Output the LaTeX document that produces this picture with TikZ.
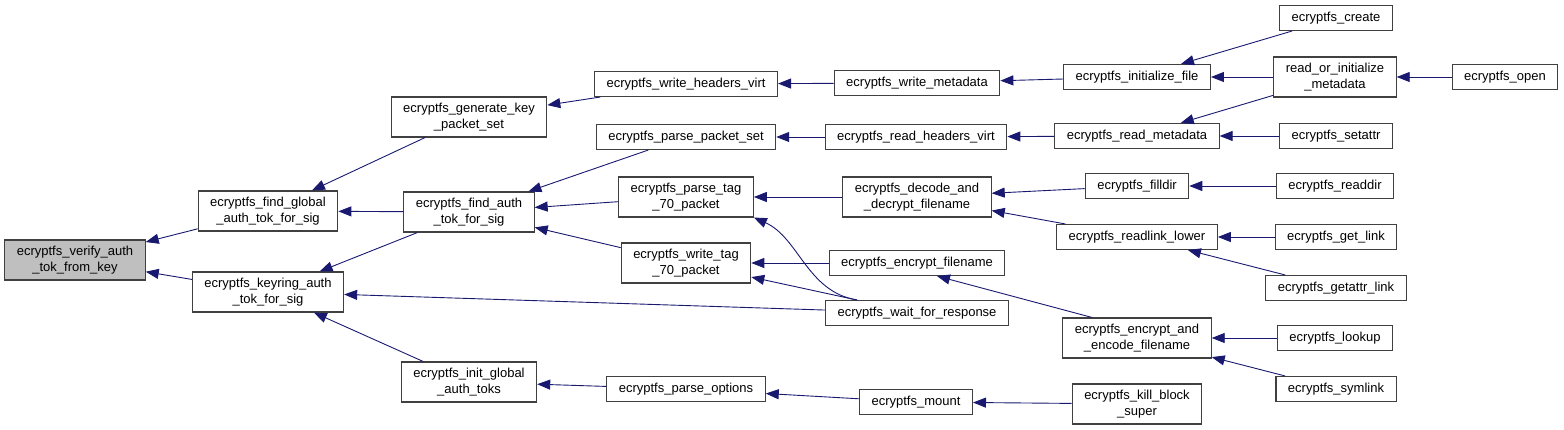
\documentclass[tikz,border=0pt]{standalone}
\usepackage{fontspec}
\setmainfont{Liberation Sans}
\usetikzlibrary{arrows.meta}
\definecolor{edgeblue}{HTML}{191970}
\definecolor{nodegray}{HTML}{BFBFBF}

\begin{document}
\begin{tikzpicture}[x=1pt,y=-1pt,
            fn/.style={rectangle,draw=black!75,line width=1.1pt,fill=white,
             font=\fontsize{13}{16}\selectfont,align=center,
             inner xsep=12pt,inner ysep=2pt,minimum height=25pt},
            fn2/.style={fn,minimum height=40pt},
            call/.style={draw=edgeblue,line width=0.9pt,
             {Triangle[length=13pt,width=10pt]}-}]
            \useasboundingbox (0,0) rectangle (1564,430);
            % column 0 to 2
            \draw (75,260) node[fn2,fill=nodegray] (VA) {ecryptfs\_verify\_auth\\\_tok\_from\_key};
            \draw (268,211) node[fn2] (FG) {ecryptfs\_find\_global\\\_auth\_tok\_for\_sig};
            \draw (268,292) node[fn2] (KR) {ecryptfs\_keyring\_auth\\\_tok\_for\_sig};
            \draw (469,117) node[fn2] (GK) {ecryptfs\_generate\_key\\\_packet\_set};
            \draw (469,212) node[fn2] (FA) {ecryptfs\_find\_auth\\\_tok\_for\_sig};
            \draw (469,382) node[fn2] (IG) {ecryptfs\_init\_global\\\_auth\_toks};
            % column 3 and 4
            \draw (686,84) node[fn] (WH) {ecryptfs\_write\_headers\_virt};
            \draw (686,137) node[fn] (PP) {ecryptfs\_parse\_packet\_set};
            \draw (686,197) node[fn2] (PT) {ecryptfs\_parse\_tag\\\_70\_packet};
            \draw (686,263) node[fn2] (WT) {ecryptfs\_write\_tag\\\_70\_packet};
            \draw (686,389) node[fn] (PO) {ecryptfs\_parse\_options};
            \draw (917,83) node[fn] (WM) {ecryptfs\_write\_metadata};
            \draw (916,137) node[fn] (RH) {ecryptfs\_read\_headers\_virt};
            \draw (917,197) node[fn2] (DD) {ecryptfs\_decode\_and\\\_decrypt\_filename};
            \draw (917,263) node[fn] (EF) {ecryptfs\_encrypt\_filename};
            \draw (917,313) node[fn] (WR) {ecryptfs\_wait\_for\_response};
            \draw (916,402) node[fn] (MT) {ecryptfs\_mount};
            % column 5
            \draw (1137,77) node[fn] (IF) {ecryptfs\_initialize\_file};
            \draw (1137,136) node[fn] (RM) {ecryptfs\_read\_metadata};
            \draw (1137,186) node[fn] (FD) {ecryptfs\_filldir};
            \draw (1137,237) node[fn] (RL) {ecryptfs\_readlink\_lower};
            \draw (1137,338) node[fn2] (EE) {ecryptfs\_encrypt\_and\\\_encode\_filename};
            \draw (1137,404) node[fn2] (KB) {ecryptfs\_kill\_block\\\_super};
            % column 6 and 7
            \draw (1336,18) node[fn] (CR) {ecryptfs\_create};
            \draw (1335,77) node[fn2] (RI) {read\_or\_initialize\\\_metadata};
            \draw (1336,136) node[fn] (SA) {ecryptfs\_setattr};
            \draw (1335,186) node[fn] (RD) {ecryptfs\_readdir};
            \draw (1336,237) node[fn] (GL) {ecryptfs\_get\_link};
            \draw (1336,288) node[fn] (GA) {ecryptfs\_getattr\_link};
            \draw (1335,338) node[fn] (LU) {ecryptfs\_lookup};
            \draw (1336,389) node[fn] (SL) {ecryptfs\_symlink};
            \draw (1505,77) node[fn] (OP) {ecryptfs\_open};
            % calls
            \draw[call] (VA)--(FG);
            \draw[call] (VA)--(KR);
            \draw[call] (FG)--(GK);
            \draw[call] (FG)--(FA);
            \draw[call] (KR)--(FA);
            \draw[call] (KR)--(WR);
            \draw[call] (KR)--(IG);
            \draw[call] (GK)--(WH);
            \draw[call] (FA)--(PP);
            \draw[call] (FA)--(PT);
            \draw[call] (FA)--(WT);
            \draw[call] (WH)--(WM);
            \draw[call] (PP)--(RH);
            \draw[call] (PT)--(DD);
            \draw[call] (PT.south east) .. controls +(45,20) and +(-50,-8) .. ([xshift=-60pt]WR.north);
            \draw[call] (WT)--(EF);
            \draw[call] (WT)--(WR);
            \draw[call] (IG)--(PO);
            \draw[call] (PO)--(MT);
            \draw[call] (WM)--(IF);
            \draw[call] (RH)--(RM);
            \draw[call] (DD)--(FD);
            \draw[call] (DD)--(RL);
            \draw[call] ([xshift=20pt]EF.south)--([xshift=-45pt]EE.north);
            \draw[call] (MT)--(KB);
            \draw[call] (IF)--(CR);
            \draw[call] (IF)--(RI);
            \draw[call] (RM)--(RI);
            \draw[call] (RM)--(SA);
            \draw[call] (FD)--(RD);
            \draw[call] (RL)--(GL);
            \draw[call] (RL)--(GA);
            \draw[call] (EE)--(LU);
            \draw[call] (EE)--(SL);
            \draw[call] (RI)--(OP);
        \end{tikzpicture}
\end{document}
